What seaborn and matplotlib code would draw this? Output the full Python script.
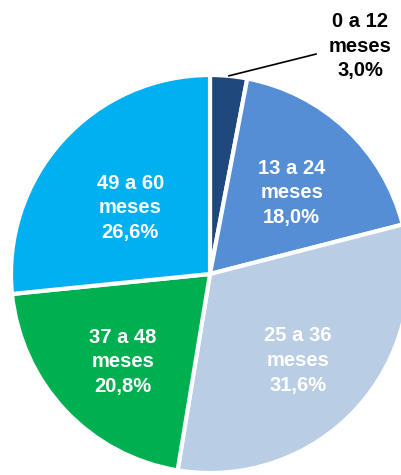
import matplotlib
matplotlib.use("Agg")
import matplotlib.pyplot as plt
import seaborn as sns
import numpy as np

categories = ["0 a 12\nmeses", "13 a 24\nmeses", "25 a 36\nmeses", "37 a 48\nmeses", "49 a 60\nmeses"]
values = [3.0, 18.0, 31.6, 20.8, 26.6]
pct_labels = ["3,0%", "18,0%", "31,6%", "20,8%", "26,6%"]
colors = ["#1F497D", "#558ED5", "#B9CDE5", "#00B050", "#00B0F0"]

sns.set_theme(style="white")
plt.rcParams['font.family'] = ['Liberation Sans', 'DejaVu Sans']

W, H = 401, 475
fig = plt.figure(figsize=(W / 100, H / 100), dpi=100)
cx, cy, r = 210, 274, 199
ax = fig.add_axes([(cx - r) / W, (H - cy - r) / H, 2 * r / W, 2 * r / H])
ax.set_axis_off()

wedges, _ = ax.pie(values, colors=colors, startangle=90, counterclock=False,
                   wedgeprops=dict(edgecolor="white", linewidth=3))
ax.set_xlim(-1, 1)
ax.set_ylim(-1, 1)
ax.set_aspect("equal")

fs = 14.5
ls = 1.38
label_dist = [1.0, 0.6, 0.6, 0.6, 0.54]
for i, w in enumerate(wedges):
    mid = np.deg2rad((w.theta1 + w.theta2) / 2)
    txt = f"{categories[i]}\n{pct_labels[i]}"
    if i == 0:
        ex, ey = np.cos(mid), np.sin(mid)
        lx, ly = ex + 0.44, ey + 0.11
        ax.plot([ex, lx], [ey, ly], color="black", lw=1.2, clip_on=False)
        ax.text(lx + 0.22, ly + 0.04, txt, ha="center", va="center", fontsize=fs,
                fontweight="bold", color="black", linespacing=ls, clip_on=False)
    else:
        d = label_dist[i]
        ax.text(d * np.cos(mid), d * np.sin(mid) - 0.03, txt, ha="center", va="center",
                fontsize=fs, fontweight="bold", color="white", linespacing=ls)

fig.savefig("out.png", dpi=100)
